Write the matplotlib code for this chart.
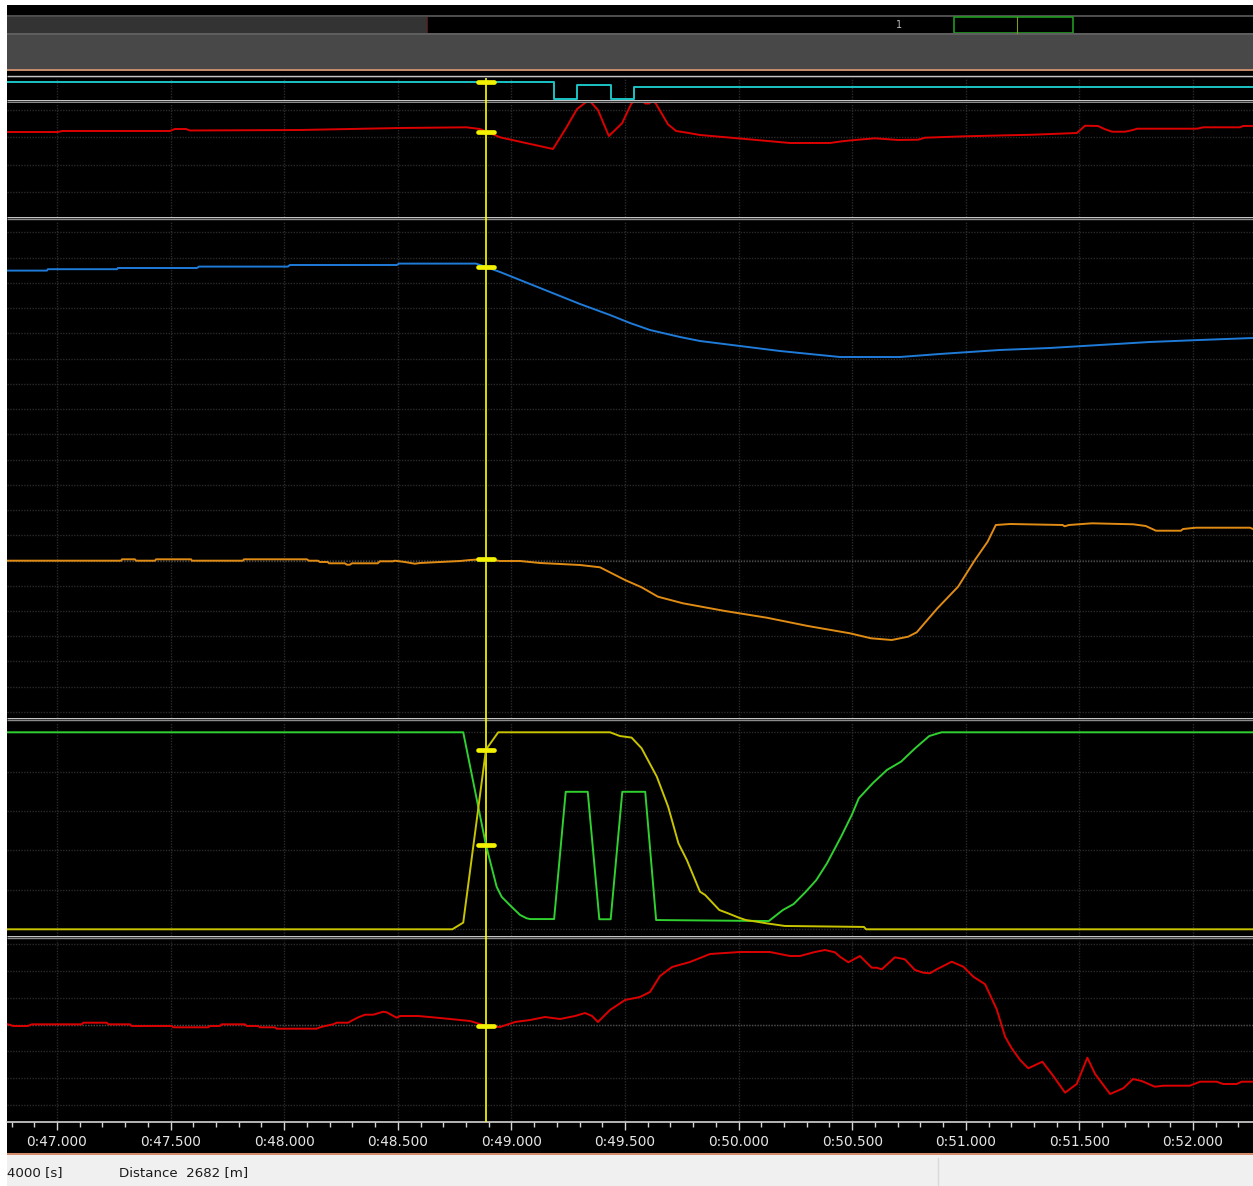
import numpy as np
import matplotlib
matplotlib.use("Agg")
import matplotlib.pyplot as plt
from matplotlib.markers import MarkerStyle
from matplotlib.patches import Rectangle
from matplotlib.ticker import MultipleLocator

# time window shown [s] and cursor position
t_start, t_end = 46.780, 52.264
t_cursor = 48.888

tick_times = [47.0, 47.5, 48.0, 48.5, 49.0, 49.5, 50.0, 50.5, 51.0, 51.5, 52.0]
tick_labels = ["0:47.000", "0:47.500", "0:48.000", "0:48.500", "0:49.000", "0:49.500",
               "0:50.000", "0:50.500", "0:51.000", "0:51.500", "0:52.000"]

# traction control level (step signal)
tc_t = [46.780, 49.188, 49.289, 49.438, 49.540, 52.264]
tc_v = [16.7, 0.0, 14.3, 0.0, 11.3, 11.3]

# engine speed [rpm]
rpm_t = [46.780, 47.004, 47.022, 47.497, 47.519, 47.568, 47.585, 48.069, 48.510, 48.803,
         48.861, 48.888, 48.950, 49.183, 49.240, 49.289, 49.341, 49.381, 49.429, 49.487,
         49.527, 49.540, 49.567, 49.589, 49.607, 49.620, 49.637, 49.689, 49.725, 49.773,
         49.830, 50.006, 50.226, 50.402, 50.455, 50.512, 50.600, 50.702, 50.790, 50.820,
         50.996, 51.296, 51.489, 51.525, 51.582, 51.613, 51.644, 51.701, 51.736, 51.754,
         52.018, 52.044, 52.207, 52.220, 52.264]
rpm_v = [9800, 9800, 9900, 9900, 10100, 10100, 9950, 10000, 10200, 10270,
         10100, 9850, 9270, 8100, 10170, 12100, 13000, 12000, 9400, 10670,
         12600, 12900, 13100, 12650, 12650, 13000, 12600, 10570, 9900, 9730,
         9500, 9150, 8700, 8700, 8870, 9000, 9170, 9000, 9030, 9230,
         9370, 9530, 9700, 10430, 10400, 10070, 9830, 9830, 10000, 10130,
         10130, 10270, 10270, 10400, 10400]

# vehicle speed [km/h]
speed_t = [46.780, 46.956, 46.960, 47.264, 47.268, 47.616, 47.625, 48.016, 48.025, 48.496,
           48.505, 48.844, 48.888, 48.950, 49.038, 49.170, 49.302, 49.434, 49.522, 49.610,
           49.742, 49.830, 50.006, 50.182, 50.358, 50.446, 50.710, 50.885, 51.149, 51.369,
           51.589, 51.809, 52.029, 52.264]
speed_v = [220.7, 220.7, 221.4, 221.4, 222.0, 222.0, 222.7, 222.7, 223.5, 223.5,
           224.2, 224.2, 222.5, 220.0, 216.0, 210.0, 204.0, 198.5, 194.5, 191.0,
           187.5, 185.5, 183.0, 180.5, 178.5, 177.5, 177.5, 179.0, 181.0, 182.0,
           183.5, 185.0, 186.0, 187.0]

# steering angle [deg]
steer_t = [46.780, 47.282, 47.286, 47.343, 47.348, 47.431, 47.436, 47.590, 47.594, 47.818,
           47.823, 48.100, 48.109, 48.148, 48.157, 48.192, 48.197, 48.267, 48.276, 48.289,
           48.298, 48.412, 48.421, 48.478, 48.487, 48.531, 48.575, 48.598, 48.686, 48.774,
           48.818, 48.888, 48.950, 49.038, 49.126, 49.214, 49.302, 49.390, 49.500, 49.573,
           49.645, 49.755, 49.940, 50.124, 50.305, 50.490, 50.583, 50.674, 50.746, 50.784,
           50.875, 50.966, 51.040, 51.096, 51.132, 51.195, 51.426, 51.435, 51.454, 51.555,
           51.737, 51.792, 51.837, 51.947, 51.956, 52.013, 52.251, 52.264]
steer_v = [0.0, 0.0, 0.28, 0.28, 0.0, 0.0, 0.28, 0.28, 0.0, 0.0,
           0.28, 0.28, 0.0, 0.0, -0.26, -0.26, -0.52, -0.52, -0.8, -0.8,
           -0.52, -0.52, -0.12, -0.12, 0.0, -0.26, -0.6, -0.46, -0.26, -0.06,
           0.14, 0.34, -0.06, -0.06, -0.46, -0.66, -0.86, -1.32, -3.86, -5.32,
           -7.2, -8.52, -10.06, -11.4, -13.06, -14.52, -15.52, -15.86, -15.2, -14.32,
           -9.52, -5.2, 0.14, 3.8, 7.14, 7.34, 7.14, 6.88, 7.14, 7.48,
           7.28, 6.94, 6.0, 6.0, 6.34, 6.6, 6.6, 6.34]

# throttle pedal [%]
throttle_t = [46.780, 48.788, 48.888, 48.935, 48.957, 48.993, 49.038, 49.067, 49.082, 49.188,
              49.239, 49.336, 49.387, 49.437, 49.488, 49.589, 49.637, 50.133, 50.195, 50.242,
              50.296, 50.342, 50.389, 50.451, 50.498, 50.529, 50.590, 50.653, 50.715, 50.777,
              50.839, 50.893, 52.264]
throttle_v = [100.0, 100.0, 42.8, 21.6, 16.5, 12.3, 7.3, 5.6, 5.2, 5.2,
              69.8, 69.8, 5.1, 5.1, 69.8, 69.8, 4.7, 4.2, 9.8, 12.8,
              19.1, 25.0, 33.5, 47.0, 58.0, 66.5, 74.1, 80.9, 85.1, 91.9,
              98.1, 100.0, 100.0]

# brake pressure [%]
brake_t = [46.780, 48.740, 48.788, 48.840, 48.888, 48.942, 49.434, 49.478, 49.529, 49.573,
           49.640, 49.690, 49.735, 49.772, 49.830, 49.853, 49.915, 49.954, 50.001, 50.032,
           50.078, 50.125, 50.203, 50.552, 50.561, 52.264]
brake_v = [0.0, 0.0, 3.4, 48.9, 91.2, 100.0, 100.0, 98.1, 97.3, 91.9,
           77.5, 62.2, 43.7, 35.2, 19.1, 17.4, 9.8, 8.1, 5.9, 4.7,
           3.9, 3.0, 1.7, 1.2, 0.0, 0.0]

# longitudinal acceleration [g]
glong_t = [46.780, 46.808, 46.872, 46.889, 47.109, 47.116, 47.219, 47.226, 47.321, 47.329,
           47.505, 47.512, 47.666, 47.673, 47.717, 47.725, 47.827, 47.835, 47.886, 47.893,
           47.959, 47.967, 48.143, 48.158, 48.180, 48.216, 48.231, 48.282, 48.297, 48.326,
           48.356, 48.392, 48.436, 48.451, 48.495, 48.510, 48.590, 48.686, 48.818, 48.862,
           48.888, 48.950, 49.016, 49.082, 49.148, 49.214, 49.280, 49.324, 49.355, 49.381,
           49.434, 49.500, 49.566, 49.610, 49.654, 49.707, 49.786, 49.874, 50.006, 50.138,
           50.226, 50.270, 50.336, 50.380, 50.424, 50.446, 50.483, 50.534, 50.586, 50.608,
           50.630, 50.688, 50.732, 50.776, 50.813, 50.842, 50.872, 50.938, 50.989, 51.033,
           51.085, 51.136, 51.173, 51.202, 51.239, 51.275, 51.337, 51.385, 51.437, 51.488,
           51.535, 51.569, 51.635, 51.693, 51.736, 51.774, 51.832, 51.869, 51.986, 52.031,
           52.104, 52.133, 52.192, 52.214, 52.264]
glong_v = [0.007, -0.013, -0.013, 0.004, 0.004, 0.02, 0.02, 0.004, 0.004, -0.013,
           -0.013, -0.026, -0.026, -0.013, -0.013, 0.004, 0.004, -0.013, -0.013, -0.026,
           -0.026, -0.04, -0.04, -0.026, -0.013, 0.004, 0.02, 0.02, 0.04, 0.074,
           0.1, 0.1, 0.13, 0.124, 0.07, 0.087, 0.087, 0.067, 0.037, 0.007,
           -0.013, -0.023, 0.027, 0.047, 0.077, 0.057, 0.087, 0.117, 0.087, 0.027,
           0.147, 0.247, 0.277, 0.327, 0.487, 0.577, 0.627, 0.707, 0.727, 0.727,
           0.687, 0.687, 0.727, 0.747, 0.724, 0.68, 0.624, 0.687, 0.57, 0.57,
           0.554, 0.674, 0.654, 0.547, 0.52, 0.514, 0.554, 0.63, 0.58, 0.48,
           0.404, 0.154, -0.12, -0.236, -0.353, -0.436, -0.37, -0.513, -0.68, -0.593,
           -0.33, -0.493, -0.693, -0.636, -0.543, -0.563, -0.62, -0.61, -0.61, -0.57,
           -0.57, -0.593, -0.593, -0.57, -0.57]

W, H = 1253, 1186
LEFT = 7
fig = plt.figure(figsize=(W / 100, H / 100), dpi=100, facecolor="white")
plt.rcParams["font.family"] = ["DejaVu Sans"]


def box(top, bottom):
    return [LEFT / W, 1 - bottom / H, (W - LEFT) / W, (bottom - top) / H]


# window chrome: header bars, panel separators, status bar
ui = fig.add_axes([0, 0, 1, 1], zorder=0)
ui.set_xlim(0, W)
ui.set_ylim(H, 0)
ui.axis("off")


def band(y0, y1, color, x0=LEFT, x1=W):
    ui.add_patch(Rectangle((x0, y0), x1 - x0, y1 - y0, color=color, lw=0))


band(5, 1152.5, "black")
band(15, 16.7, "#4c4c4c")
band(16.7, 33, "#333333", x1=427)
band(16.7, 33, "#5a1212", x0=426.5, x1=428)
ui.add_patch(Rectangle((954, 16.8), 119, 16, fill=False, ec="#1f9a1f", lw=1.2))
ui.plot([1017, 1017], [17, 32.5], color="#7f9a1c", lw=0.8)
ui.text(899, 25.5, "1", color="#bdbdbd", fontsize=7, ha="center", va="center")
band(33, 35, "#5e5e5e")
band(35, 68.5, "#484848")
band(68.5, 70.7, "#c48a6c")

for y in [75.8, 100.2, 216.8, 718.2, 936.2]:
    ui.plot([LEFT, W], [y, y], color="#c4c4c4", lw=1.0, solid_capstyle="butt")
    ui.plot([LEFT, W], [y + 2.2, y + 2.2], color="#8a8a8a", lw=1.0, solid_capstyle="butt")

band(1152.5, 1154.7, "#d48c6c")
band(1154.7, H, "#f0f0f0")
ui.plot([938, 938], [1158, H], color="#d9d9d9", lw=1)
ui.text(LEFT, 1173, "4000 [s]", color="#1a1a1a", fontsize=9.6, ha="left", va="center")
ui.text(119, 1173, "Distance  2682 [m]", color="#1a1a1a", fontsize=9.6, ha="left", va="center")


def panel(top, bottom, grid=None):
    ax = fig.add_axes(box(top, bottom), zorder=1)
    ax.set_facecolor("black")
    ax.set_xlim(t_start, t_end)
    ax.set_xticks(tick_times)
    if grid:
        ax.set_ylim(*grid)
        ax.yaxis.set_major_locator(MultipleLocator(1))
        ax.grid(axis="y", color="#2a2a2a", lw=1, ls=(0, (1, 1)))
    else:
        ax.set_yticks([])
    ax.grid(axis="x", color="#2a2a2a", lw=1, ls=(0, (1, 1)))
    ax.tick_params(length=0, labelbottom=False, labelleft=False)
    for s in ax.spines.values():
        s.set_visible(False)
    return ax


def channel(base, ylim):
    ax = fig.add_axes(base.get_position().bounds, zorder=3)
    ax.set_facecolor("none")
    ax.set_xlim(t_start, t_end)
    ax.set_ylim(*ylim)
    ax.axis("off")
    return ax


cursor_mark = MarkerStyle("_", capstyle="round")


def trace(ax, t, v, color, steps=False):
    if steps:
        ax.plot(t, v, color=color, lw=1.4, drawstyle="steps-post")
        at_cursor = v[np.searchsorted(t, t_cursor, side="right") - 1]
    else:
        ax.plot(t, v, color=color, lw=1.4)
        at_cursor = np.interp(t_cursor, t, v)
    ax.plot([t_cursor], [at_cursor], marker=cursor_mark, ms=11, mew=3.4,
            color="#f2f200", clip_on=False, zorder=5)


pa = panel(78, 100)
pb = panel(102.5, 216.5, grid=(0.103, 4.278))
pc = panel(221, 718, grid=(-0.238, 19.446))
pd = panel(721.5, 936, grid=(-0.170, 5.274))
pe = panel(939.5, 1120.5, grid=(-3.575, 3.179))

# cursor line across all panels
cur = fig.add_axes(box(78, 1122), zorder=2)
cur.set_facecolor("none")
cur.set_xlim(t_start, t_end)
cur.axis("off")
cur.axvline(t_cursor, color="#ffff00", lw=1.2)

ax = channel(pa, (-1.5, 21))
trace(ax, tc_t, tc_v, "#1cc4c4", steps=True)

ax = channel(pb, (1350, 12750))
trace(ax, rpm_t, rpm_v, "#dc0000")

ax = channel(pc, (-3, 245.5))
trace(ax, speed_t, speed_v, "#1f7bd8")

ax = channel(pc, (-31.46, 67.94))
ax.axhline(0, color="#4a4a4a", lw=1, ls=(0, (1, 1)))
trace(ax, steer_t, steer_v, "#e08c14")

ax = channel(pd, (-3.40, 105.48))
trace(ax, throttle_t, throttle_v, "#2fd02f")
ax = channel(pd, (-3.40, 105.48))
trace(ax, brake_t, brake_v, "#c8c400")

ax = channel(pe, (-0.958, 0.852))
ax.axhline(0, color="#4a4a4a", lw=1, ls=(0, (1, 1)))
trace(ax, glong_t, glong_v, "#dc0000")

# time axis
ax_t = fig.add_axes(box(1121.5, 1152.5), zorder=1)
ax_t.set_facecolor("black")
ax_t.set_xlim(t_start, t_end)
for side in ["left", "right", "bottom"]:
    ax_t.spines[side].set_visible(False)
ax_t.spines["top"].set_color("#d4d4d4")
ax_t.spines["top"].set_linewidth(1.2)
ax_t.set_yticks([])
ax_t.xaxis.set_ticks_position("top")
ax_t.set_xticks(tick_times)
ax_t.xaxis.set_minor_locator(MultipleLocator(0.1))
ax_t.tick_params(axis="x", which="major", direction="in", length=5.5, width=1,
                 color="#d4d4d4", labeltop=False, labelbottom=False)
ax_t.tick_params(axis="x", which="minor", direction="in", length=3.5, width=1,
                 color="#d4d4d4")
for t, lab in zip(tick_times, tick_labels):
    ax_t.text(t, 0.33, lab, transform=ax_t.get_xaxis_transform(), color="#e6e6e6",
              fontsize=9.8, ha="center", va="center")

fig.savefig("out.png", dpi=100, facecolor="white")
